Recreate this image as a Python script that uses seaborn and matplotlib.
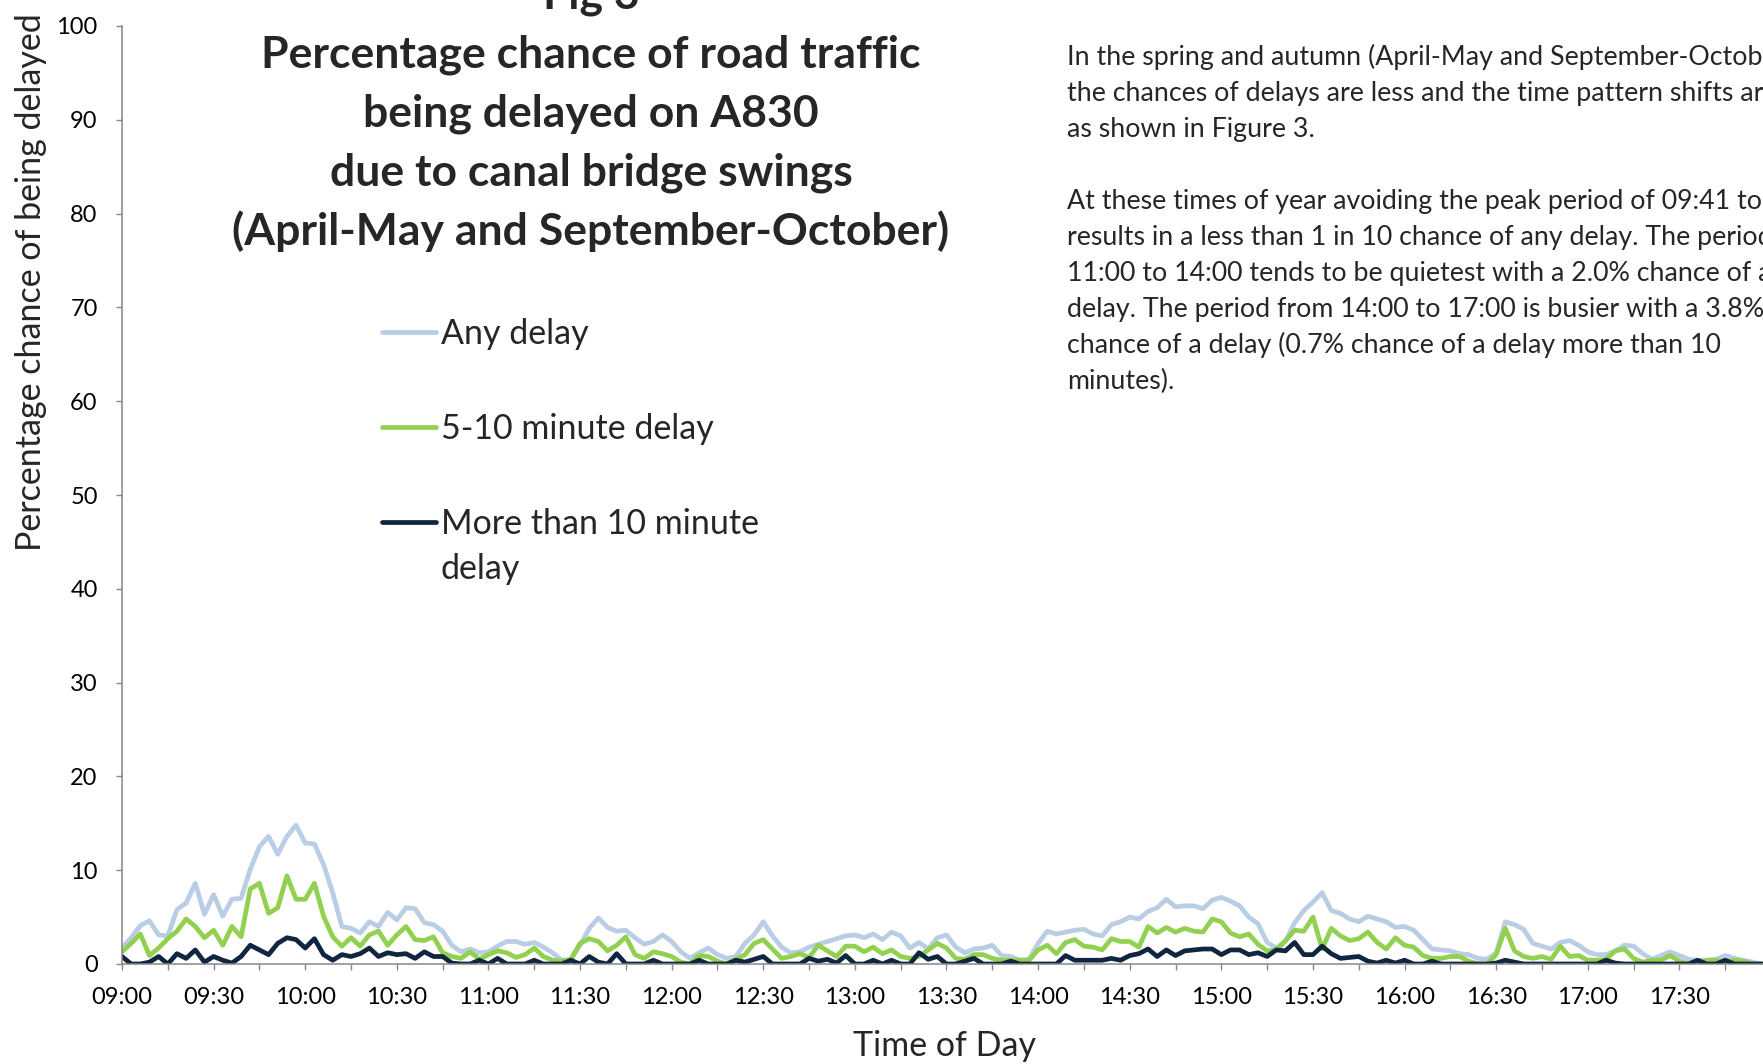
import pandas as pd
import matplotlib
import matplotlib.pyplot as plt
import seaborn as sns

matplotlib.use('Agg')

# minutes after 09:00, sampled every 3 minutes
minutes = list(range(0, 540, 3))

any_delay = [
    1.7, 2.8, 4.1, 4.6, 3.1, 3.0, 5.8, 6.5, 8.6, 5.3, 7.4, 5.1, 6.9, 7.0, 10.1,
    12.5, 13.6, 11.7, 13.6, 14.8, 12.9, 12.8, 10.6, 7.6, 4.0, 3.8, 3.3, 4.5, 4.0, 5.5,
    4.7, 6.0, 5.9, 4.4, 4.2, 3.5, 2.0, 1.3, 1.6, 1.2, 1.3, 1.9, 2.4, 2.4, 2.1,
    2.3, 1.8, 1.2, 0.4, 0.5, 2.0, 3.8, 4.9, 3.9, 3.5, 3.6, 2.8, 2.1, 2.4, 3.1,
    2.4, 1.3, 0.6, 1.2, 1.7, 1.0, 0.6, 0.8, 2.2, 3.1, 4.5, 3.0, 1.8, 1.2, 1.3,
    1.8, 2.1, 2.4, 2.7, 3.0, 3.1, 2.8, 3.2, 2.6, 3.4, 3.0, 1.7, 2.3, 1.6, 2.8,
    3.1, 1.8, 1.2, 1.6, 1.7, 2.0, 0.9, 0.8, 0.4, 0.5, 2.2, 3.5, 3.2, 3.4, 3.6,
    3.7, 3.2, 3.0, 4.2, 4.5, 5.0, 4.8, 5.6, 6.0, 6.9, 6.1, 6.2, 6.2, 5.9, 6.8,
    7.1, 6.7, 6.2, 5.0, 4.3, 2.3, 1.7, 2.4, 4.4, 5.7, 6.6, 7.6, 5.7, 5.4, 4.8,
    4.5, 5.1, 4.8, 4.5, 3.9, 4.0, 3.6, 2.6, 1.6, 1.5, 1.4, 1.1, 1.0, 0.6, 0.5,
    1.2, 4.5, 4.2, 3.7, 2.2, 1.9, 1.6, 2.3, 2.5, 2.0, 1.3, 1.0, 1.0, 1.4, 2.0,
    1.9, 1.1, 0.5, 0.9, 1.3, 0.9, 0.5, 0.4, 0.4, 0.5, 0.9, 0.6, 0.4, 0.2, 0.0,
]

delay_5_10 = [
    1.3, 2.2, 3.2, 0.9, 1.7, 2.7, 3.5, 4.8, 4.0, 2.8, 3.6, 2.0, 4.0, 2.9, 8.0,
    8.6, 5.4, 6.0, 9.4, 6.9, 6.9, 8.6, 5.1, 2.9, 1.9, 2.8, 1.9, 3.1, 3.5, 2.0,
    3.1, 4.0, 2.6, 2.5, 2.9, 1.2, 0.8, 0.6, 1.3, 0.5, 1.0, 1.4, 1.2, 0.7, 1.0,
    1.7, 0.8, 0.4, 0.3, 0.5, 2.2, 2.7, 2.4, 1.4, 2.0, 2.9, 1.0, 0.6, 1.3, 1.1,
    0.8, 0.2, 0.0, 0.9, 0.8, 0.3, 0.0, 0.5, 1.0, 2.2, 2.6, 1.6, 0.6, 0.8, 1.1,
    0.7, 2.0, 1.4, 0.8, 1.9, 1.9, 1.3, 1.8, 1.1, 1.5, 0.8, 0.6, 0.8, 1.5, 2.2,
    1.7, 0.6, 0.5, 1.0, 1.0, 0.6, 0.4, 0.4, 0.4, 0.4, 1.5, 2.0, 1.1, 2.3, 2.6,
    1.9, 1.8, 1.5, 2.7, 2.4, 2.4, 1.8, 4.0, 3.3, 3.9, 3.4, 3.8, 3.5, 3.4, 4.8,
    4.5, 3.3, 2.9, 3.2, 2.1, 1.4, 1.5, 2.5, 3.6, 3.5, 5.0, 1.6, 3.8, 3.0, 2.5,
    2.7, 3.4, 2.3, 1.6, 2.8, 2.0, 1.8, 0.9, 0.6, 0.6, 0.8, 0.8, 0.3, 0.0, 0.0,
    1.0, 3.8, 1.4, 0.8, 0.6, 0.8, 0.5, 1.9, 0.8, 0.9, 0.4, 0.4, 0.5, 1.4, 1.6,
    0.6, 0.2, 0.4, 0.4, 0.9, 0.3, 0.0, 0.0, 0.4, 0.4, 0.2, 0.4, 0.3, 0.0, 0.0,
]

delay_over_10 = [
    0.8, 0.0, 0.0, 0.2, 0.8, 0.0, 1.1, 0.6, 1.5, 0.2, 0.8, 0.4, 0.1, 0.8, 2.0,
    1.5, 1.0, 2.2, 2.8, 2.6, 1.7, 2.7, 1.0, 0.4, 1.0, 0.8, 1.1, 1.7, 0.8, 1.2,
    1.0, 1.1, 0.6, 1.3, 0.8, 0.8, 0.1, 0.0, 0.0, 0.4, 0.0, 0.6, 0.0, 0.0, 0.0,
    0.4, 0.0, 0.0, 0.0, 0.4, 0.0, 0.8, 0.2, 0.0, 1.1, 0.0, 0.0, 0.0, 0.4, 0.0,
    0.0, 0.0, 0.0, 0.4, 0.0, 0.0, 0.0, 0.4, 0.2, 0.5, 0.8, 0.0, 0.0, 0.0, 0.0,
    0.6, 0.3, 0.5, 0.1, 0.9, 0.0, 0.0, 0.4, 0.0, 0.4, 0.0, 0.0, 1.2, 0.5, 0.8,
    0.0, 0.0, 0.3, 0.6, 0.0, 0.0, 0.0, 0.3, 0.0, 0.0, 0.0, 0.0, 0.0, 0.9, 0.4,
    0.4, 0.4, 0.4, 0.6, 0.4, 0.9, 1.1, 1.6, 0.8, 1.5, 0.9, 1.4, 1.5, 1.6, 1.6,
    1.0, 1.5, 1.5, 1.0, 1.2, 0.8, 1.5, 1.4, 2.3, 1.0, 1.0, 1.9, 1.1, 0.6, 0.7,
    0.8, 0.3, 0.1, 0.4, 0.1, 0.4, 0.0, 0.0, 0.3, 0.0, 0.0, 0.0, 0.0, 0.0, 0.0,
    0.1, 0.4, 0.2, 0.0, 0.0, 0.0, 0.0, 0.0, 0.0, 0.0, 0.0, 0.0, 0.4, 0.1, 0.0,
    0.0, 0.0, 0.0, 0.0, 0.0, 0.0, 0.0, 0.4, 0.0, 0.0, 0.4, 0.0, 0.0, 0.0, 0.0,
]

series_names = ['Any delay', '5-10 minute delay', 'More than 10 minute']
series_colors = ['#B9CDE5', '#92D050', '#10253F']

xtick_pos = list(range(0, 540, 30))
xtick_labels = ['09:00', '09:30', '10:00', '10:30', '11:00', '11:30', '12:00', '12:30', '13:00',
                '13:30', '14:00', '14:30', '15:00', '15:30', '16:00', '16:30', '17:00', '17:30']

title_lines = ['Fig 3', 'Percentage chance of road traffic', 'being delayed on A830',
               'due to canal bridge swings', '(April-May and September-October)']

note_lines = [
    'In the spring and autumn (April-May and September-October)',
    'the chances of delays are less and the time pattern shifts around',
    'as shown in Figure 3.',
    '',
    'At these times of year avoiding the peak period of 09:41 to 10:13',
    'results in a less than 1 in 10 chance of any delay. The period from',
    '11:00 to 14:00 tends to be quietest with a 2.0% chance of a',
    'delay. The period from 14:00 to 17:00 is busier with a 3.8%',
    'chance of a delay (0.7% chance of a delay more than 10',
    'minutes).',
]

df = pd.DataFrame({
    'minute': minutes * 3,
    'pct': any_delay + delay_5_10 + delay_over_10,
    'series': [series_names[0]] * len(minutes) + [series_names[1]] * len(minutes)
              + [series_names[2]] * len(minutes),
})

sns.set_style('ticks')
plt.rcParams['font.family'] = ['Lato', 'DejaVu Sans']

W, H = 1763, 1064
fig = plt.figure(figsize=(W / 100, H / 100), dpi=100)
ax = fig.add_axes([122 / W, 100 / H, (1771 - 122) / W, (964 - 26) / H])

sns.lineplot(data=df, x='minute', y='pct', hue='series', hue_order=series_names,
             palette=series_colors, linewidth=3.4, ax=ax)

ax.set_xlim(0, 540)
ax.set_ylim(0, 100)
ax.set_yticks(range(0, 101, 10))
ax.set_xticks(xtick_pos)
ax.set_xticklabels(xtick_labels)
ax.set_xticks(range(0, 541, 15), minor=True)
ax.set_xlabel('')
ax.set_ylabel('')
for side in ['top', 'right']:
    ax.spines[side].set_visible(False)
for side in ['left', 'bottom']:
    ax.spines[side].set_color('#868686')
    ax.spines[side].set_linewidth(1.1)
ax.tick_params(axis='both', which='both', direction='out', length=4.5, width=1.0,
               color='#868686', labelsize=17, labelcolor='black')
ax.tick_params(axis='x', which='major', pad=12)
ax.tick_params(axis='y', which='major', pad=13)

handles, labels = ax.get_legend_handles_labels()
ax.legend(handles, labels, loc='upper left', bbox_to_anchor=(382 / W, 1 - 318 / H),
          bbox_transform=fig.transFigure, frameon=False, fontsize=24.5,
          handlelength=1.6, handletextpad=0.12, labelspacing=1.85, borderpad=0,
          borderaxespad=0)
for line in ax.get_legend().get_lines():
    line.set_linewidth(3.4)
fig.text(441 / W, 1 - 569 / H, 'delay', fontsize=24.5, ha='left', va='center')

fig.text(31 / W, 1 - 282 / H, 'Percentage chance of being delayed', rotation=90,
         fontsize=24.5, ha='center', va='center')
fig.text(944 / W, 1 - 1046 / H, 'Time of Day', fontsize=24.5, ha='center', va='center')

for i, line in enumerate(title_lines):
    fig.text(591 / W, 1 - (-4 + 58.8 * i) / H, line, fontsize=32, fontweight='bold',
             ha='center', va='center')

for i, line in enumerate(note_lines):
    fig.text(1067 / W, 1 - (57 + 36 * i) / H, line, fontsize=19.3, ha='left', va='center')

fig.savefig('out.png', dpi=100)
plt.close('all')
